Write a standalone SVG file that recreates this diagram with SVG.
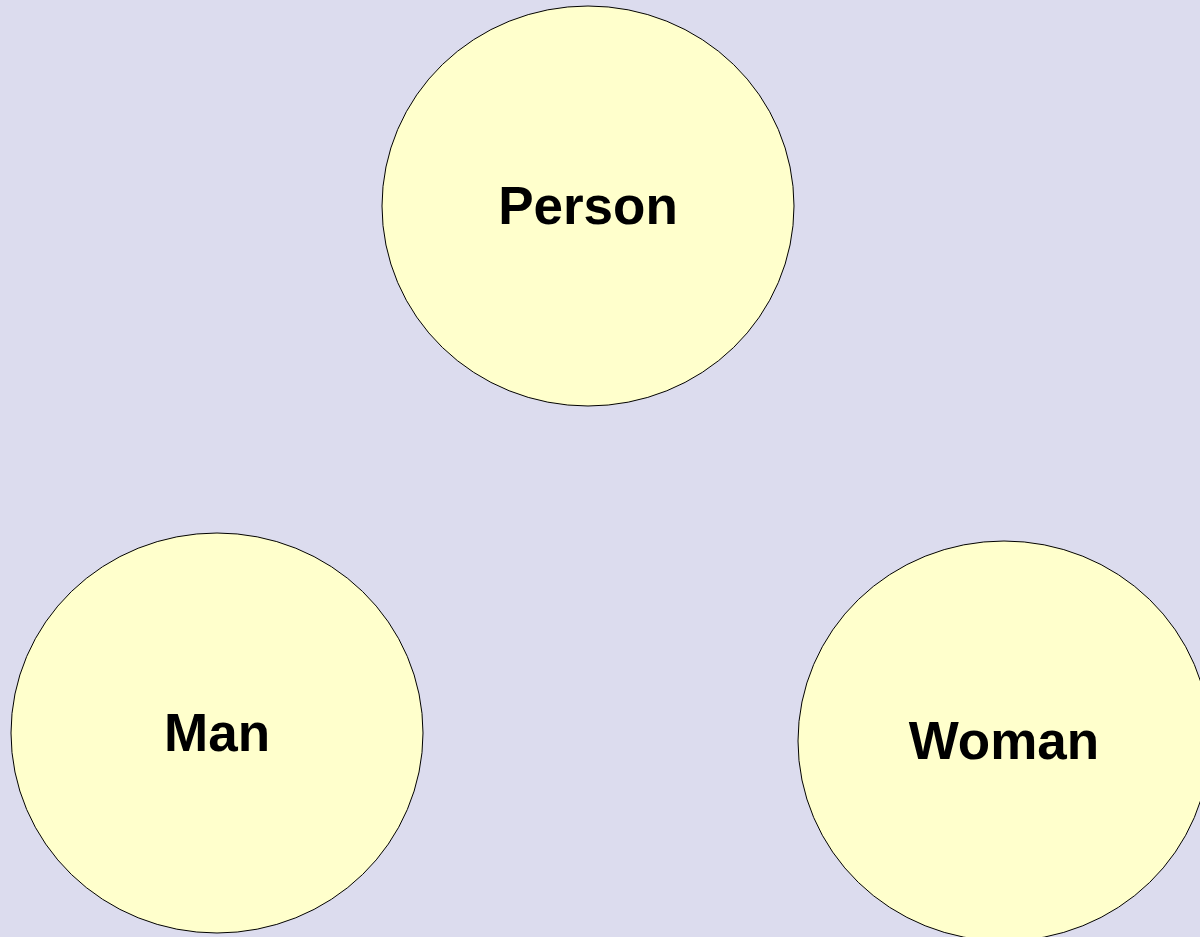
<svg xmlns="http://www.w3.org/2000/svg" width="1200" height="937" viewBox="0 0 1200 937">
<style>
.node ellipse{fill:#ffffcc;stroke:#000;stroke-width:1}
.node text{font-family:"Liberation Sans",Arial,sans-serif;font-weight:bold;font-size:53px;fill:#000;text-anchor:middle}
</style>
<rect width="1200" height="937" fill="#dcdcee"/>
<g id="connectors"></g>
<g id="person" class="node"><ellipse cx="588" cy="206" rx="206" ry="200"/><text x="588" y="224">Person</text></g>
<g id="man" class="node"><ellipse cx="217" cy="733" rx="206" ry="200"/><text x="217" y="751">Man</text></g>
<g id="woman" class="node"><ellipse cx="1004" cy="741" rx="206" ry="200"/><text x="1004" y="759">Woman</text></g>
</svg>
